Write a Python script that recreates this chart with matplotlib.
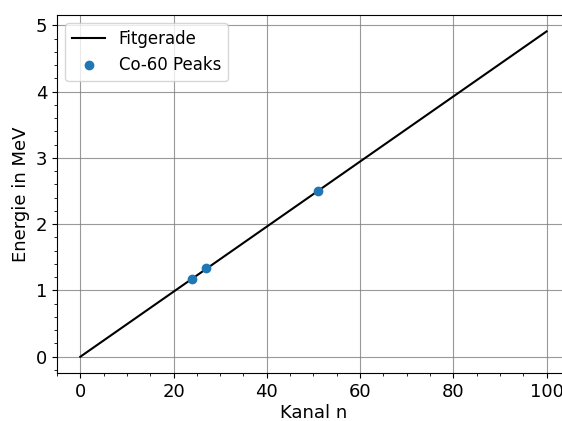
import matplotlib.pyplot as plt
from matplotlib.ticker import AutoMinorLocator

# Fit line endpoints (channel, energy)
fit_kanal = [0, 100]
fit_energie = [0.0, 4.91]

# Co-60 peaks
peak_kanal = [24, 27, 51]
peak_energie = [1.173, 1.332, 2.505]

plt.rcParams['font.size'] = 13

fig = plt.figure(figsize=(5.62, 4.21), dpi=100)
ax = fig.add_axes([0.1014, 0.114, 0.9126, 0.850])

ax.plot(fit_kanal, fit_energie, color='k', label='Fitgerade')
ax.plot(peak_kanal, peak_energie, 'o', color='C0', label='Co-60 Peaks')

ax.set_xlim(-5, 105)
ax.set_ylim(-0.2455, 5.1555)
ax.set_xticks([0, 20, 40, 60, 80, 100])
ax.set_yticks([0, 1, 2, 3, 4, 5])
ax.xaxis.set_minor_locator(AutoMinorLocator(4))
ax.yaxis.set_minor_locator(AutoMinorLocator(5))
ax.grid(True, which='major', color='gray', alpha=0.8)

ax.set_xlabel('Kanal n', labelpad=2)
ax.set_ylabel('Energie in MeV')
ax.legend(loc='upper left', fontsize=12)

fig.savefig('out.png', dpi=100)
